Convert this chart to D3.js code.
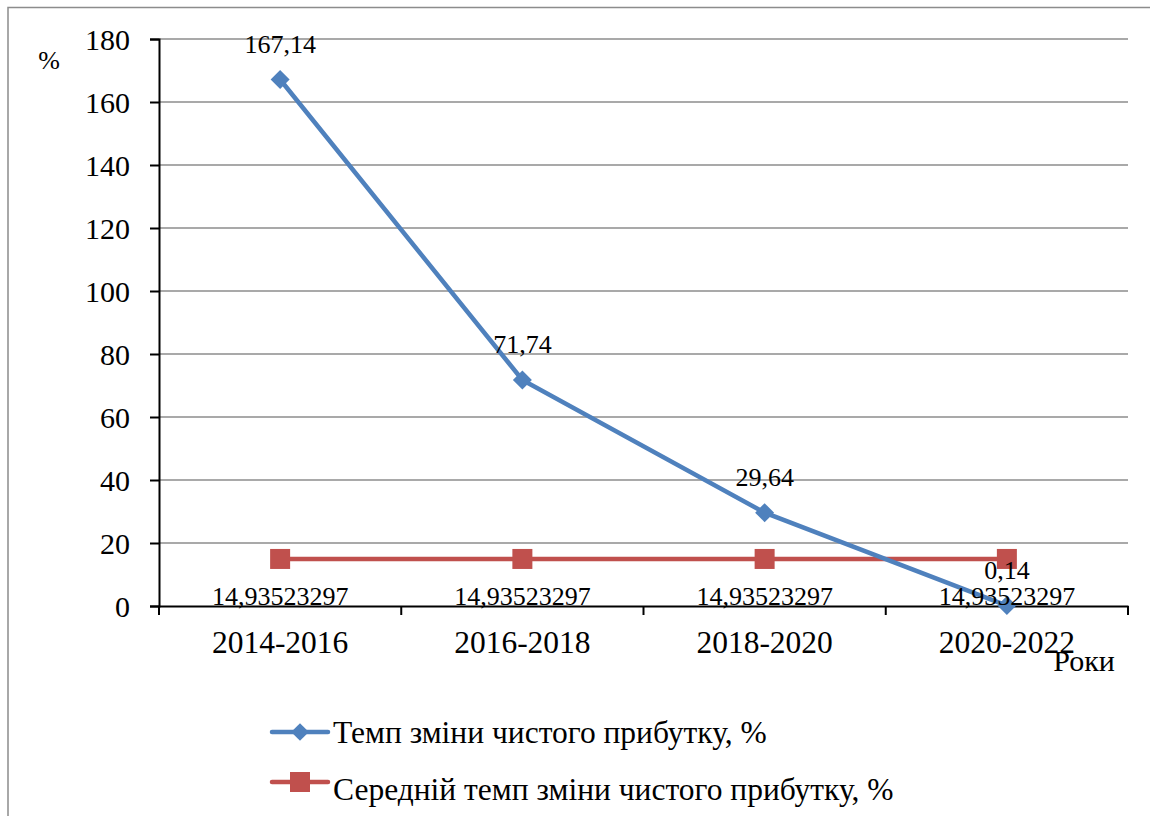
<!DOCTYPE html>
<html>
<head>
<meta charset="utf-8">
<script src="https://cdn.jsdelivr.net/npm/d3@7"></script>
<style>
  body { margin: 0; background: #fff; }
</style>
</head>
<body>
<svg id="chart" width="1150" height="816"></svg>
<script>
// data
const periods = ['2014-2016', '2016-2018', '2018-2020', '2020-2022'];
const growth = [167.14, 71.74, 29.64, 0.14];
const average = [14.93523297, 14.93523297, 14.93523297, 14.93523297];
const yTicks = [0, 20, 40, 60, 80, 100, 120, 140, 160, 180];
const seriesNames = ['Темп зміни чистого прибутку, %', 'Середній темп зміни чистого прибутку, %'];

const svg = d3.select('#chart');

// outer chart frame
svg.append('rect')
    .attr('x', 8).attr('y', 7.5)
    .attr('width', 1150).attr('height', 820)
    .attr('fill', 'none').attr('stroke', '#8c8c8c').attr('stroke-width', 1.5);

const x = d3.scaleBand().domain(periods).range([159, 1128]);
const y = d3.scaleLinear().domain([0, 180]).range([606, 39]);
const cx = d => x(d) + x.bandwidth() / 2;

// gridlines
svg.append('g').selectAll('line')
    .data(yTicks.filter(d => d > 0))
    .enter().append('line')
    .attr('x1', 159).attr('x2', 1128)
    .attr('y1', d => y(d)).attr('y2', d => y(d))
    .attr('stroke', '#8c8c8c').attr('stroke-width', 1.5);

// y axis
const yAxis = svg.append('g')
    .attr('transform', 'translate(159,0)')
    .call(d3.axisLeft(y).tickValues(yTicks).tickSize(9).tickPadding(20));
yAxis.select('.domain').attr('stroke', '#000').attr('stroke-width', 2);
yAxis.selectAll('.tick line').attr('stroke', '#000').attr('stroke-width', 2);
yAxis.selectAll('.tick text').attr('font-size', 30).attr('dy', '0.34em');

// x axis
const xAxis = svg.append('g')
    .attr('transform', 'translate(0,606)')
    .call(d3.axisBottom(x).tickSize(0).tickPadding(25));
xAxis.select('.domain').attr('stroke', '#000').attr('stroke-width', 2);
xAxis.selectAll('.tick text').attr('font-size', 31.5);
xAxis.append('g').selectAll('line')
    .data([159, 401.25, 643.5, 885.75, 1128])
    .enter().append('line')
    .attr('x1', d => d).attr('x2', d => d)
    .attr('y1', 0).attr('y2', 9)
    .attr('stroke', '#000').attr('stroke-width', 2);

// axis titles
svg.append('text').attr('x', 49).attr('y', 69)
    .attr('text-anchor', 'middle').attr('font-size', 26).text('%');
svg.append('text').attr('x', 1084).attr('y', 671)
    .attr('text-anchor', 'middle').attr('font-size', 30).text('Роки');

const line = d3.line().x((d, i) => cx(periods[i])).y(d => y(d));

// average series
svg.append('path').datum(average)
    .attr('d', line).attr('fill', 'none')
    .attr('stroke', '#C0504D').attr('stroke-width', 4.5);
svg.append('g').selectAll('rect')
    .data(average).enter().append('rect')
    .attr('x', (d, i) => cx(periods[i]) - 10)
    .attr('y', d => y(d) - 10)
    .attr('width', 20).attr('height', 20)
    .attr('fill', '#C0504D');

// growth series
svg.append('path').datum(growth)
    .attr('d', line).attr('fill', 'none')
    .attr('stroke', '#4F81BD').attr('stroke-width', 4.5);
const diamond = d3.symbol().type(d3.symbolDiamond2).size(230);
svg.append('g').selectAll('path')
    .data(growth).enter().append('path')
    .attr('d', diamond)
    .attr('transform', (d, i) => `translate(${cx(periods[i])},${y(d)})`)
    .attr('fill', '#4F81BD');

// data labels
const fmt = v => String(v).replace('.', ',');
svg.append('g').selectAll('text')
    .data(growth).enter().append('text')
    .attr('x', (d, i) => cx(periods[i]))
    .attr('y', d => y(d) - 27)
    .attr('text-anchor', 'middle').attr('font-size', 26)
    .text(fmt);
svg.append('g').selectAll('text')
    .data(average).enter().append('text')
    .attr('x', (d, i) => cx(periods[i]))
    .attr('y', d => y(d) + 46)
    .attr('text-anchor', 'middle').attr('font-size', 26)
    .text(fmt);

// legend
const legendColors = ['#4F81BD', '#C0504D'];
const leg = svg.append('g').selectAll('g')
    .data(seriesNames).enter().append('g')
    .attr('transform', (d, i) => `translate(272,${732 + i * 50})`);
leg.append('line')
    .attr('x1', 0).attr('x2', 56).attr('y1', 0).attr('y2', 0)
    .attr('stroke', (d, i) => legendColors[i]).attr('stroke-width', 4.5)
    .attr('stroke-linecap', 'round');
leg.append('path')
    .attr('d', (d, i) => i === 0 ? d3.symbol().type(d3.symbolDiamond2).size(200)() : 'M-10,-10H10V10H-10Z')
    .attr('transform', 'translate(28,0)')
    .attr('fill', (d, i) => legendColors[i]);
leg.append('text')
    .attr('x', 61).attr('y', (d, i) => 11 + i * 7)
    .attr('font-size', 31.5)
    .text(d => d);

// every label in Times-like serif
svg.selectAll('text')
    .style('font-family', '"Liberation Serif", "Times New Roman", serif')
    .style('fill', '#000');
</script>
</body>
</html>
